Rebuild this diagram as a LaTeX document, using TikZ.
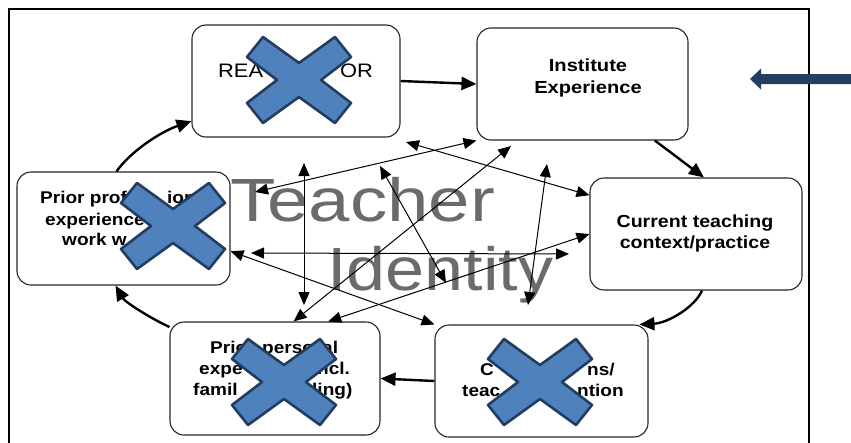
\documentclass[tikz,border=0pt]{standalone}
\usepackage{fontspec}
\setmainfont{Liberation Sans}
\newfontfamily\scanfont{Liberation Sans}[FakeStretch=1.12]
\newfontfamily\instfont{Liberation Sans}[FakeStretch=1.15]
\newfontfamily\bigfont{Liberation Sans}[FakeStretch=1.15]
\newfontfamily\bigwidefont{Liberation Sans}[FakeStretch=1.22]
\usetikzlibrary{calc}
\usetikzlibrary{arrows.meta}

\definecolor{xfill}{RGB}{79,129,189}
\definecolor{xedge}{RGB}{35,60,95}
\definecolor{ptrblue}{RGB}{36,62,99}

\tikzset{
  box/.style={draw=black!85, line width=1.1pt, rounded corners=14pt, fill=white, minimum height=112pt, inner sep=0pt},
  frag/.style={anchor=base west, inner sep=0pt, font=\scanfont\bfseries\fontsize{17}{21}\selectfont},
  link/.style={arrows={Triangle[length=13pt,width=11pt]-Triangle[length=13pt,width=11pt]}, line width=1pt},
  flow/.style={arrows={-Triangle[length=15pt,width=13pt]}, line width=2.4pt},
  coverx/.style={fill=xfill, draw=xedge, line width=2.6pt, line join=round}
}

\newcommand{\blotx}[1]{\draw[coverx, shift={#1}] (-36,-43) -- (0,-17) -- (36,-43) -- (52,-23) -- (22,0) -- (52,23) -- (36,43) -- (0,17) -- (-36,43) -- (-52,23) -- (-22,0) -- (-52,-23) -- cycle;}

\begin{document}
\begin{tikzpicture}[x=1pt,y=-1pt]
\path[use as bounding box, clip] (0,0) rectangle (851,442);
\fill[white] (0,0) rectangle (851,442);
\draw[line width=2pt] (9,9) rectangle (809,470);

% Teacher Identity
\node[anchor=base west, inner sep=0pt, text=black!58, font=\bigwidefont\fontsize{61}{61}\selectfont] (teacher) at (230,221) {Teacher};
\node[anchor=base west, inner sep=0pt, text=black!58, font=\bigfont\fontsize{61}{61}\selectfont] (identity) at (327,290) {Identity};

% boxes
\node[box, minimum width=208pt] (rea) at (296,81) {};
\node[box, minimum width=211pt] (inst) at (582.5,84) {};
\node[box, minimum width=212pt] (cur) at (696,234) {};
\node[box, minimum width=213pt, minimum height=113pt] (prof) at (123.5,228.5) {};
\node[box, minimum width=210pt, minimum height=113pt] (pers) at (275,378.5) {};
\node[box, minimum width=213pt] (oth) at (541.5,381) {};

\node[align=center, inner sep=0pt, font=\instfont\bfseries\fontsize{17.5}{22.5}\selectfont] (insttext) at (588,78) {Institute\\Experience};
\node[align=center, inner sep=0pt, font=\scanfont\bfseries\fontsize{17.5}{21}\selectfont] (curtext) at (695,233) {Current teaching\\context/practice};

\node[frag, font=\scanfont\fontsize{19.5}{21}\selectfont] (reatext) at (218,77) {\makebox[122pt][l]{REA}OR};
\node[frag] (prof1) at (40,203) {\makebox[127pt][l]{Prior prof}ion};
\node[frag] (prof2) at (45,225) {experience};
\node[frag] (prof3) at (62,245) {work w};
\node[frag] (pers1) at (210,353) {\makebox[52pt][l]{Prio}\makebox[60pt][l]{perso}al};
\node[frag] (pers2) at (199,374) {\makebox[118pt][l]{expe}ncl.};
\node[frag] (pers3) at (193,395) {\makebox[119pt][l]{famil}ling)};
\node[frag] (oth1) at (480,375) {\makebox[107pt][l]{C}ns/};
\node[frag] (oth2) at (462,396) {\makebox[115pt][l]{teac}ntion};

% links
\coordinate (teachT) at (255,192);
\coordinate (idtop) at (304,163);
\coordinate (idbot) at (304,305);
\coordinate (instlow) at (511,146);
\coordinate (chup) at (380,166);
\coordinate (chdown) at (446,283);
\coordinate (reabelow) at (406,142);
\coordinate (tytop) at (547,164);
\coordinate (tybot) at (528,305);
\coordinate (hleft) at (251,253);
\coordinate (hright) at (569,254);

\draw[link] (teachT) -- (inst.south west);
\draw[link] (idtop) -- (idbot);
\draw[link] (pers.72) -- (instlow);
\draw[link] (chup) -- (chdown);
\draw[link] (reabelow) -- (cur.160);
\draw[link] (tytop) -- (tybot);
\draw[link] (hleft) -- (hright);
\draw[link] (prof.-12) -- (oth.north west);
\draw[link] (pers.47) -- (cur.west);

% cycle
\draw[flow] (prof.97) .. controls (130,152) and (160,132) .. (rea.201);
\draw[flow] (rea.east) -- (inst.west);
\draw[flow] (inst.-38) -- (cur.82);
\draw[flow] (cur.-84) .. controls (695,307) and (668,323) .. (oth.30);
\draw[flow] (oth.west) -- (pers.east);
\draw[flow] (pers.154) .. controls (150,318) and (125,302) .. (prof.-98);

% crosses
\foreach \c in {(299,80),(173,226),(284,382),(540,382)}
  {\blotx{\c}}

% pointer
\fill[ptrblue] (750,79) -- (761,68.5) -- (761,74) -- (851,74) -- (851,84) -- (761,84) -- (761,89.5) -- cycle;

\end{tikzpicture}
\end{document}
